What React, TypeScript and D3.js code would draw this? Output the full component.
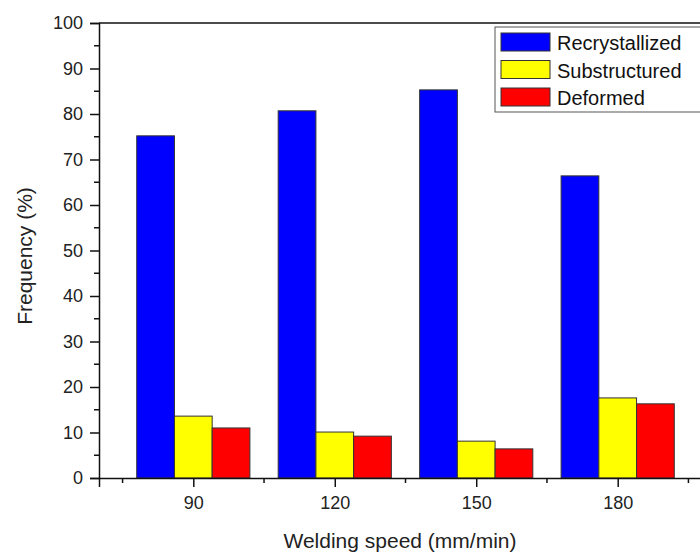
import React, { useEffect, useRef } from "react";
import * as d3 from "d3";

const speeds = [90, 120, 150, 180];
const recrystallized = [75.2, 80.7, 85.3, 66.4];
const substructured = [13.6, 10.1, 8.1, 17.6];
const deformed = [11.0, 9.2, 6.4, 16.3];

const seriesNames = ["Recrystallized", "Substructured", "Deformed"];
const seriesColors = ["#0000ff", "#ffff00", "#ff0000"];

const yMajorTicks = [0, 10, 20, 30, 40, 50, 60, 70, 80, 90, 100];
const yMinorTicks = [5, 15, 25, 35, 45, 55, 65, 75, 85, 95];
const xMinorTicks = [75, 105, 135, 165, 195];

const width = 700;
const height = 553;

const App = () => {
  const chartRef = useRef<SVGSVGElement>(null);

  useEffect(() => {
    drawChart();
  }, []);

  const drawChart = () => {
    const svg = d3.select(chartRef.current);
    svg.selectAll("*").remove();

    const font = "'Liberation Sans', Arial, sans-serif";

    const x = d3.scaleLinear().domain([70, 200]).range([99, 712]);
    const y = d3.scaleLinear().domain([0, 100]).range([478, 23]);

    const barW = 8; // in x units
    const allSeries = [recrystallized, substructured, deformed];

    // bars
    allSeries.forEach((vals, s) => {
      svg
        .append("g")
        .selectAll("rect")
        .data(vals)
        .join("rect")
        .attr("x", (d, i) => x(speeds[i] - 1.5 * barW + s * barW))
        .attr("width", x(barW) - x(0))
        .attr("y", d => y(d))
        .attr("height", d => y(0) - y(d))
        .attr("fill", seriesColors[s])
        .attr("stroke", "#333")
        .attr("stroke-width", 1);
    });

    // top frame line
    svg
      .append("line")
      .attr("x1", x(70))
      .attr("x2", x(200))
      .attr("y1", y(100))
      .attr("y2", y(100))
      .attr("stroke", "#111")
      .attr("stroke-width", 1.5);

    // y axis
    const yAxis = d3
      .axisLeft(y)
      .tickValues(yMajorTicks)
      .tickSize(9)
      .tickPadding(7)
      .tickFormat(d3.format("d"));
    const gy = svg
      .append("g")
      .attr("transform", `translate(${x(70)},0)`)
      .call(yAxis);
    gy.selectAll("text")
      .attr("font-family", font)
      .attr("font-size", 18)
      .attr("fill", "#222");
    gy.selectAll("line").attr("stroke-width", 1.5).attr("stroke", "#111");
    gy.select(".domain").attr("stroke-width", 1.5).attr("stroke", "#111");

    svg
      .append("g")
      .selectAll("line")
      .data(yMinorTicks)
      .join("line")
      .attr("x1", x(70) - 5)
      .attr("x2", x(70))
      .attr("y1", d => y(d))
      .attr("y2", d => y(d))
      .attr("stroke", "#111")
      .attr("stroke-width", 1.5);

    // x axis
    const xAxis = d3
      .axisBottom(x)
      .tickValues(speeds)
      .tickSize(9)
      .tickPadding(9)
      .tickFormat(d3.format("d"));
    const gx = svg
      .append("g")
      .attr("transform", `translate(0,${y(0)})`)
      .call(xAxis);
    gx.selectAll("text")
      .attr("font-family", font)
      .attr("font-size", 18)
      .attr("fill", "#222");
    gx.selectAll("line").attr("stroke-width", 1.5).attr("stroke", "#111");
    gx.select(".domain").attr("stroke-width", 1.5).attr("stroke", "#111");

    svg
      .append("g")
      .selectAll("line")
      .data(xMinorTicks)
      .join("line")
      .attr("x1", d => x(d))
      .attr("x2", d => x(d))
      .attr("y1", y(0))
      .attr("y2", y(0) + 5)
      .attr("stroke", "#111")
      .attr("stroke-width", 1.5);

    // axis titles
    svg
      .append("text")
      .attr("x", 400)
      .attr("y", 548)
      .attr("text-anchor", "middle")
      .attr("font-family", font)
      .attr("font-size", 21)
      .attr("fill", "#222")
      .text("Welding speed (mm/min)");

    svg
      .append("text")
      .attr("transform", "translate(32,256) rotate(-90)")
      .attr("text-anchor", "middle")
      .attr("font-family", font)
      .attr("font-size", 21)
      .attr("fill", "#222")
      .text("Frequency (%)");

    // legend
    const legend = svg.append("g");
    legend
      .append("rect")
      .attr("x", 495)
      .attr("y", 27)
      .attr("width", 230)
      .attr("height", 85)
      .attr("fill", "#fff")
      .attr("stroke", "#555")
      .attr("stroke-width", 1);

    seriesNames.forEach((name, i) => {
      const ry = 33 + i * 27.5;
      legend
        .append("rect")
        .attr("x", 501)
        .attr("y", ry)
        .attr("width", 49)
        .attr("height", 18)
        .attr("fill", seriesColors[i])
        .attr("stroke", "#333")
        .attr("stroke-width", 1);
      legend
        .append("text")
        .attr("x", 557)
        .attr("y", ry + 17)
        .attr("font-family", font)
        .attr("font-size", 20)
        .attr("fill", "#111")
        .text(name);
    });
  };

  return (
    <div style={{ position: "absolute", left: 0, top: 0 }}>
      <svg
        ref={chartRef}
        width={width}
        height={height}
        style={{ display: "block", background: "#fff", overflow: "hidden" }}
      ></svg>
    </div>
  );
};

export default App;
